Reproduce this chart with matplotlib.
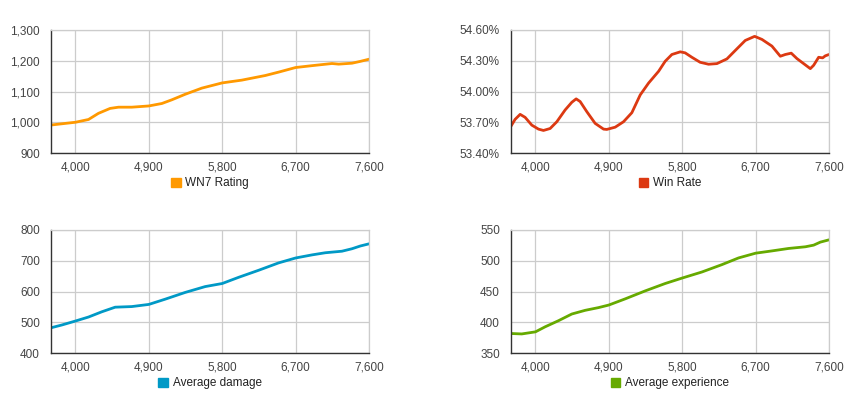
import matplotlib.pyplot as plt
from matplotlib.patches import Patch
from matplotlib.ticker import FuncFormatter

plt.rcParams['font.family'] = ['Liberation Sans', 'DejaVu Sans']

# x ticks shared by every panel
x_ticks = [4000, 4900, 5800, 6700, 7600]
x_min = 3700

# WN7 rating
wn7_x = [3700, 4000, 4160, 4282, 4425, 4528, 4691, 4900, 5060, 5182, 5346, 5550,
         5800, 6041, 6328, 6491, 6700, 6900, 7146, 7228, 7391, 7494, 7600]
wn7_y = [991, 1000, 1009, 1029, 1045, 1049, 1049, 1053, 1061, 1073, 1091, 1111,
         1128, 1137, 1152, 1163, 1178, 1184, 1191, 1189, 1192, 1198, 1205]

# win rate (%)
win_x = [3700, 3750, 3812, 3873, 3955, 4037, 4098, 4180, 4262, 4364, 4446, 4499,
         4548, 4630, 4732, 4835, 4875, 4978, 5080, 5182, 5285, 5387, 5510, 5591,
         5673, 5776, 5836, 5918, 6020, 6123, 6225, 6348, 6450, 6573, 6688, 6778,
         6900, 7003, 7064, 7137, 7207, 7289, 7371, 7412, 7473, 7522, 7555, 7600]
win_y = [53.662, 53.728, 53.777, 53.748, 53.672, 53.633, 53.620, 53.639, 53.705,
         53.820, 53.895, 53.928, 53.902, 53.803, 53.689, 53.633, 53.630, 53.652,
         53.705, 53.793, 53.967, 54.082, 54.197, 54.295,
         54.361, 54.387, 54.377, 54.334, 54.285, 54.266, 54.272, 54.318, 54.400,
         54.498, 54.538, 54.508, 54.443, 54.344, 54.361, 54.374, 54.321, 54.272,
         54.223, 54.256, 54.334, 54.328, 54.348, 54.361]

# average damage
dmg_x = [3700, 3832, 4000, 4160, 4323, 4487, 4691, 4900, 5100, 5346, 5591, 5800,
         6000, 6246, 6491, 6700, 6900, 7064, 7268, 7391, 7494, 7600]
dmg_y = [482, 491, 504, 517, 534, 549, 551, 558, 575, 597, 616, 626,
         646, 669, 693, 709, 719, 726, 731, 739, 748, 755]

# average experience
exp_x = [3700, 3832, 4000, 4119, 4282, 4446, 4610, 4773, 4900, 5100, 5346, 5591,
         5800, 6041, 6287, 6491, 6700, 6900, 7105, 7310, 7412, 7494, 7600]
exp_y = [381.7, 381, 384.4, 392.6, 402.5, 413.4, 419.4, 423.8, 428, 438, 451, 463,
         471.9, 481.7, 493.7, 504.6, 512.3, 516, 520, 522.7, 525.4, 530.3, 534]

panels = [
    (wn7_x, wn7_y, '#ff9900', 'WN7 Rating', [900, 1000, 1100, 1200, 1300], lambda v, p: f'{v:,.0f}'),
    (win_x, win_y, '#dc3912', 'Win Rate', [53.40, 53.70, 54.00, 54.30, 54.60], lambda v, p: f'{v:.2f}%'),
    (dmg_x, dmg_y, '#0099c6', 'Average damage', [400, 500, 600, 700, 800], lambda v, p: f'{v:,.0f}'),
    (exp_x, exp_y, '#66aa00', 'Average experience', [350, 400, 450, 500, 550], lambda v, p: f'{v:,.0f}'),
]

fig = plt.figure(figsize=(8.64, 3.96), dpi=100)
W, H = 864, 396
boxes = [(51, 30), (511, 30), (51, 230), (511, 230)]

for (xs, ys, color, label, yticks, fmt), (left, top) in zip(panels, boxes):
    ax = fig.add_axes([left / W, 1 - (top + 123) / H, 318 / W, 123 / H])
    ax.plot(xs, ys, color=color, lw=2.0, solid_capstyle='round', solid_joinstyle='round')
    ax.set_xlim(x_min, x_ticks[-1])
    ax.set_ylim(yticks[0], yticks[-1])
    ax.set_xticks(x_ticks)
    ax.set_yticks(yticks)
    ax.xaxis.set_major_formatter(FuncFormatter(lambda v, p: f'{v:,.0f}'))
    ax.yaxis.set_major_formatter(FuncFormatter(fmt))
    ax.grid(True, color='#cccccc', lw=0.9)
    ax.set_axisbelow(True)
    ax.tick_params(length=0, labelsize=8.5, labelcolor='#444444')
    ax.tick_params(axis='y', pad=8)
    ax.tick_params(axis='x', pad=6)
    for s in ['top', 'right']:
        ax.spines[s].set_color('#cccccc')
        ax.spines[s].set_linewidth(0.9)
    for s in ['left', 'bottom']:
        ax.spines[s].set_color('#333333')
        ax.spines[s].set_linewidth(1.0)
    ax.legend(handles=[Patch(facecolor=color, edgecolor=color, label=label)],
              loc='upper center', bbox_to_anchor=(0.5, -0.16), frameon=False,
              handlelength=0.8, handleheight=0.8, handletextpad=0.4,
              fontsize=8.5, labelcolor='#222222', borderaxespad=0)

fig.savefig('out.png', dpi=100)
